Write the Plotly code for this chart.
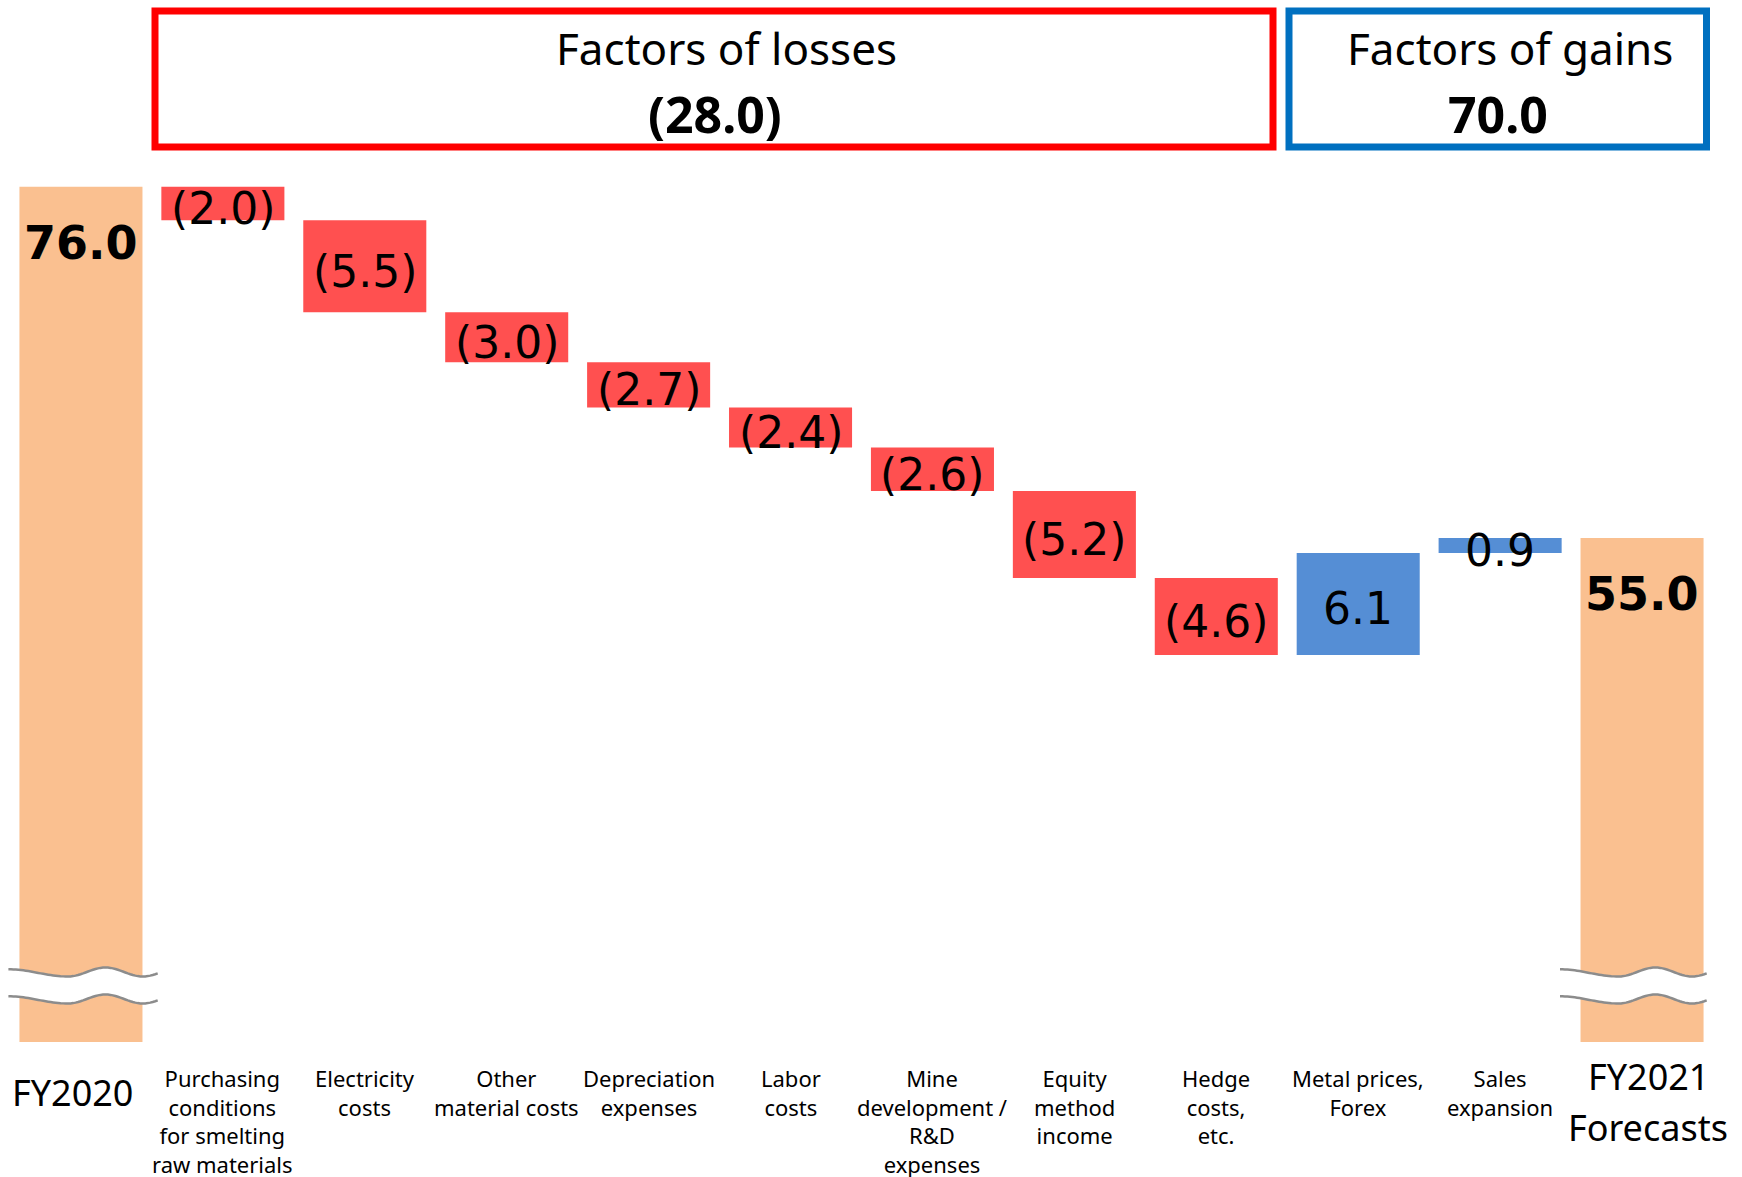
import math
import plotly.graph_objects as go

# ---------------- data ----------------
categories = [
    "FY2020",
    "Purchasing<br>conditions<br>for smelting<br>raw materials",
    "Electricity<br>costs",
    "Other<br>material costs",
    "Depreciation<br>expenses",
    "Labor<br>costs",
    "Mine<br>development /<br>R&D<br>expenses",
    "Equity<br>method<br>income",
    "Hedge<br>costs,<br>etc.",
    "Metal prices,<br>Forex",
    "Sales<br>expansion",
    "FY2021<br>Forecasts",
]
values = [76.0, -2.0, -5.5, -3.0, -2.7, -2.4, -2.6, -5.2, -4.6, 6.1, 0.9, 55.0]
measures = ["absolute"] + ["relative"] * 10 + ["total"]
value_labels = ["76.0", "(2.0)", "(5.5)", "(3.0)", "(2.7)", "(2.4)", "(2.6)",
                "(5.2)", "(4.6)", "6.1", "0.9", "55.0"]
header_titles = ["Factors of losses", "Factors of gains"]
header_totals = ["(28.0)", "70.0"]

# ---------------- style ----------------
RED = "#FF5050"
BLUE = "#558ED5"
ORANGE = "#FAC090"
BOX_RED = "#FF0000"
BOX_BLUE = "#0070C0"
W, H = 1742, 1177
ML, MR, MT, MB = 10, 29, 0, 135
PW, PH = W - ML - MR, H - MT - MB
YR = [24.85, 87.17]
LBL_FONT = "Noto Sans, Open Sans, sans-serif"
NUM_FONT = "DejaVu Sans, Verdana, sans-serif"


def px_x(px):
    return (px - ML) / PW


def px_y(py):
    return (MT + PH - py) / PH


fig = go.Figure(go.Waterfall(
    x=categories, y=values, measure=measures,
    textposition="none",
    connector=dict(visible=False),
    decreasing=dict(marker=dict(color=RED)),
    increasing=dict(marker=dict(color=BLUE)),
    totals=dict(marker=dict(color=ORANGE)),
    hoverinfo="skip",
))

annotations = []
shapes = []

# value labels
cum = 0.0
for cat, v, m, lab in zip(categories, values, measures, value_labels):
    if m in ("absolute", "total"):
        if m == "absolute":
            cum = v
        annotations.append(dict(x=cat, y=cum, xref="x", yref="y", text=lab,
                                showarrow=False, xanchor="center", yanchor="middle", yshift=-56,
                                font=dict(family=NUM_FONT, size=46, color="black", weight="bold")))
    else:
        prev = cum
        cum += v
        annotations.append(dict(x=cat, y=(prev + cum) / 2, xref="x", yref="y", text=lab,
                                showarrow=False, xanchor="center", yanchor="middle", yshift=-5,
                                font=dict(family=NUM_FONT, size=44, color="black")))

# category labels
for i, cat in enumerate(categories):
    if measures[i] in ("absolute", "total"):
        lines = cat.split("<br>")
        if len(lines) == 1:
            annotations.append(dict(x=cat, y=0, xref="x", yref="paper", text=cat,
                                    showarrow=False, xanchor="center", yanchor="middle",
                                    yshift=-50, xshift=-8,
                                    font=dict(family=LBL_FONT, size=36, color="black")))
        else:
            for j, ln in enumerate(lines):
                annotations.append(dict(x=cat, y=0, xref="x", yref="paper", text=ln,
                                        showarrow=False, xanchor="center", yanchor="middle",
                                        yshift=-34 - 51.2 * j, xshift=6,
                                        font=dict(family=LBL_FONT, size=36, color="black")))
    else:
        annotations.append(dict(x=cat, y=0, xref="x", yref="paper", text=cat,
                                showarrow=False, xanchor="center", yanchor="top", yshift=-18.5,
                                font=dict(family=LBL_FONT, size=22, color="black")))

# header boxes
boxes = [(155, 1273, BOX_RED, 726, 714.5), (1289, 1706.5, BOX_BLUE, 1509.5, 1497.5)]
for (x0, x1, col, tx, nx), title, tot in zip(boxes, header_titles, header_totals):
    shapes.append(dict(type="rect", xref="paper", yref="paper",
                       x0=px_x(x0), x1=px_x(x1), y0=px_y(147), y1=px_y(11),
                       line=dict(color=col, width=7), fillcolor="rgba(0,0,0,0)"))
    annotations.append(dict(x=px_x(tx), y=px_y(48), xref="paper", yref="paper", text=title,
                            showarrow=False, xanchor="center", yanchor="middle",
                            font=dict(family=LBL_FONT, size=44, color="black")))
    annotations.append(dict(x=px_x(nx), y=px_y(114), xref="paper", yref="paper", text=tot,
                            showarrow=False, xanchor="center", yanchor="middle",
                            font=dict(family=LBL_FONT, size=50, color="black", weight="bold")))


# axis-break waves
def wave_pts(xa, xb, yc, amp=4.5, n=60):
    pts = []
    for k in range(n + 1):
        t = k / n
        if t < 0.4:
            f = -0.6 + 1.6 * (1 - math.cos(math.pi * t / 0.4)) / 2
        else:
            f = math.cos(2 * math.pi * (t - 0.4) / 0.5)
        pts.append((xa + (xb - xa) * t, yc + amp * f))
    return pts


for xa, xb in [(8.4, 157.7), (1560, 1706.7)]:
    w1 = wave_pts(xa, xb, 972)
    w2 = wave_pts(xa, xb, 999)
    poly = w1 + list(reversed(w2))
    path = "M " + " L ".join(f"{px_x(a):.5f},{px_y(b):.5f}" for a, b in poly) + " Z"
    shapes.append(dict(type="path", xref="paper", yref="paper", path=path,
                       fillcolor="white", line=dict(width=0), layer="above"))
    for w in (w1, w2):
        p = "M " + " L ".join(f"{px_x(a):.5f},{px_y(b):.5f}" for a, b in w)
        shapes.append(dict(type="path", xref="paper", yref="paper", path=p,
                           line=dict(color="#8C8C8C", width=2.5), layer="above"))

fig.update_layout(
    width=W, height=H,
    margin=dict(l=ML, r=MR, t=MT, b=MB, pad=0),
    paper_bgcolor="white", plot_bgcolor="white",
    showlegend=False,
    waterfallgap=0.133,
    xaxis=dict(range=[-0.5, len(categories) - 0.5], showticklabels=False, showgrid=False,
               zeroline=False, showline=False, ticks=""),
    yaxis=dict(range=YR, visible=False, showgrid=False, zeroline=False),
    annotations=annotations,
    shapes=shapes,
)

fig.write_html("out.html")
